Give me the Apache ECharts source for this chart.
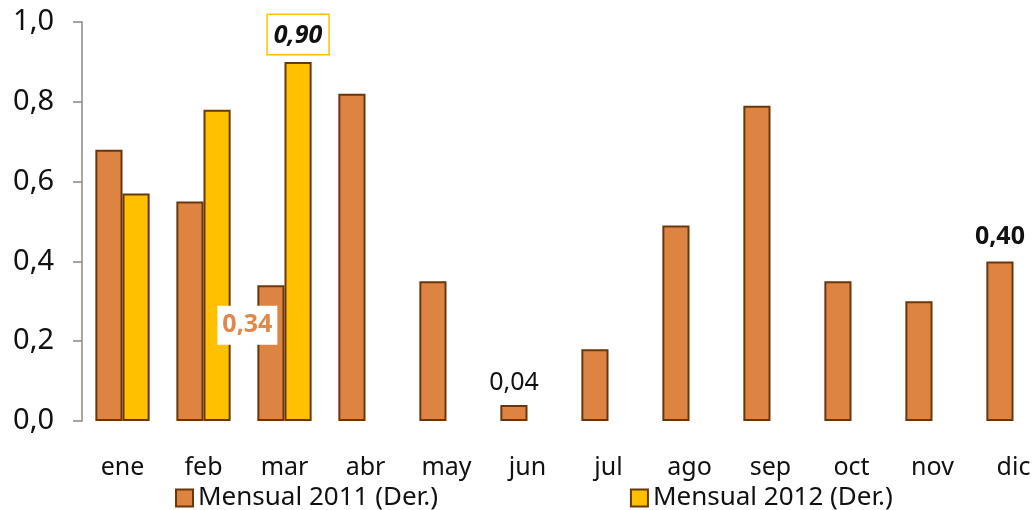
<!DOCTYPE html>
<html>
<head>
<meta charset="utf-8">
<script src="https://cdn.jsdelivr.net/npm/echarts@6/dist/echarts.min.js"></script>
<style>html,body{margin:0;padding:0;background:#fff}#c{width:1034px;height:510px}</style>
</head>
<body>
<div id="c"></div>
<script>
const categories = ['ene','feb','mar','abr','may','jun','jul','ago','sep','oct','nov','dic'];
const mensual2011 = [0.68, 0.55, 0.34, 0.82, 0.35, 0.04, 0.18, 0.49, 0.79, 0.35, 0.30, 0.40];
const mensual2012 = [0.57, 0.78, 0.90, null, null, null, null, null, null, null, null, null];
const yTicks = [0, 0.2, 0.4, 0.6, 0.8, 1.0];

const FONT = 'Noto Sans';
const fmt = v => v.toFixed(2).replace('.', ',');

const data2011 = mensual2011.map((v, i) => {
  const item = { value: v };
  if (i === 2) {
    item.label = { show: true, position: [-10, 40], align: 'center', verticalAlign: 'middle',
      formatter: p => fmt(p.value), color: '#E0874A', fontWeight: 'bold', fontSize: 25,
      fontFamily: FONT, backgroundColor: '#fff', padding: [7, 5] };
  } else if (i === 5) {
    item.label = { show: true, position: 'top', distance: 10, formatter: p => fmt(p.value),
      color: '#111', fontSize: 25, fontFamily: FONT };
  } else if (i === 11) {
    item.label = { show: true, position: 'top', distance: 12, formatter: p => fmt(p.value),
      color: '#111', fontWeight: 'bold', fontSize: 25, fontFamily: FONT };
  }
  return item;
});
const data2012 = mensual2012.map((v, i) => {
  const item = { value: v };
  if (i === 2) {
    item.label = { show: true, position: 'top', distance: 8, formatter: p => fmt(p.value),
      color: '#111', fontWeight: 'bold', fontStyle: 'italic', fontSize: 25, fontFamily: FONT,
      backgroundColor: '#fff', borderColor: '#FFC000', borderWidth: 1.5, padding: [8, 6, 6, 6] };
  }
  return item;
});

const chart = echarts.init(document.getElementById('c'));
chart.setOption({
  animation: false,
  backgroundColor: '#fff',
  grid: { left: 82, width: 972, top: 22, bottom: 89, containLabel: false, outerBoundsMode: 'none' },
  legend: {
    top: 480, left: 170, itemWidth: 17, itemHeight: 17, itemGap: 192, icon: 'rect',
    textStyle: { fontSize: 26, fontFamily: FONT, color: '#111' },
    data: ['Mensual 2011 (Der.)', 'Mensual 2012 (Der.)']
  },
  xAxis: {
    type: 'category', data: categories,
    axisLine: { show: false }, axisTick: { show: false },
    axisLabel: { fontSize: 25, fontFamily: FONT, color: '#111', margin: 34 }
  },
  yAxis: {
    type: 'value', min: 0, max: 1, interval: 0.2,
    splitLine: { show: false },
    axisLine: { show: true, lineStyle: { color: '#888', width: 1.5 } },
    axisTick: { show: true, length: 9, lineStyle: { color: '#888', width: 1.5 } },
    axisLabel: { fontSize: 29, fontFamily: FONT, color: '#111', margin: 28,
      formatter: v => yTicks.includes(Math.round(v*10)/10) ? v.toFixed(1).replace('.', ',') : '' }
  },
  series: [
    { name: 'Mensual 2011 (Der.)', type: 'bar', data: data2011, barGap: '0%', barCategoryGap: '33%',
      itemStyle: { color: '#DE8442', borderColor: '#6A370B', borderWidth: 2 } },
    { name: 'Mensual 2012 (Der.)', type: 'bar', data: data2012,
      itemStyle: { color: '#FFC000', borderColor: '#6A370B', borderWidth: 2 } }
  ]
});
</script>
</body>
</html>
